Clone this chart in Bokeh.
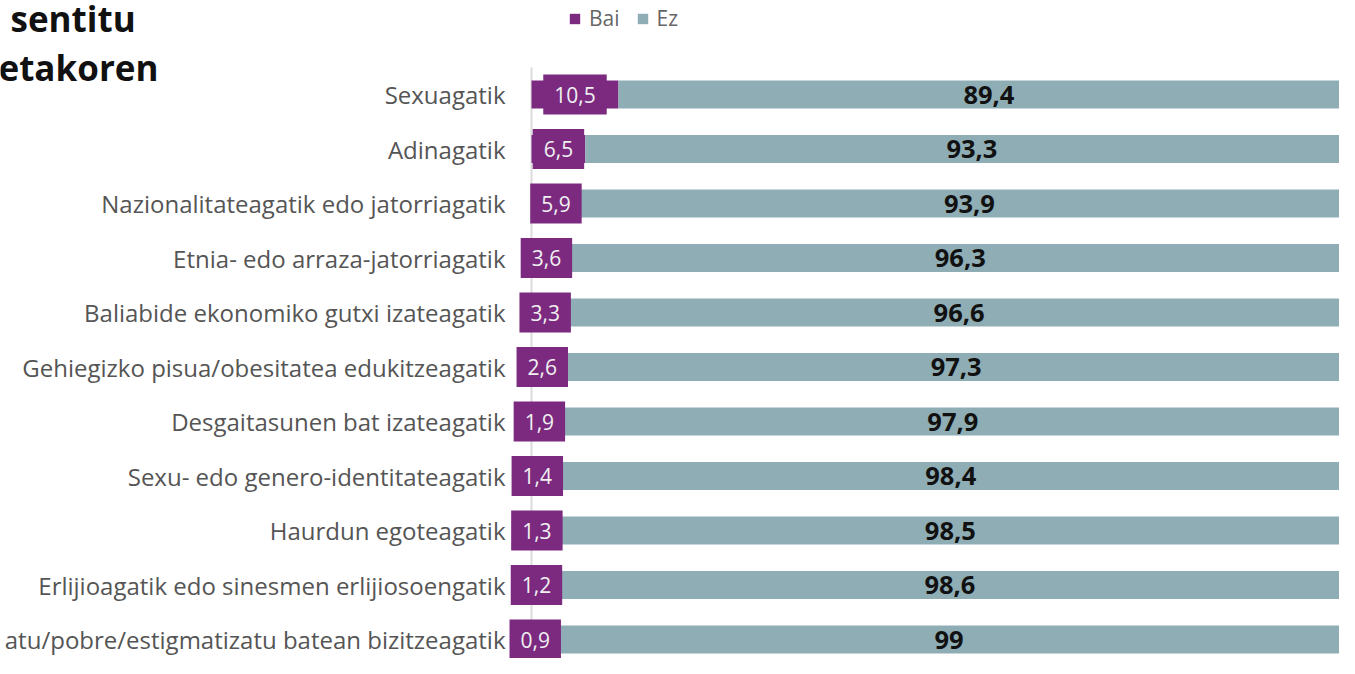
from bokeh.plotting import figure
from bokeh.models import Range1d, ColumnDataSource, Label, Legend, LegendItem
from bokeh.core.properties import value
from bokeh.embed import file_html
from bokeh.resources import INLINE

categories = [
    "Sexuagatik",
    "Adinagatik",
    "Nazionalitateagatik edo jatorriagatik",
    "Etnia- edo arraza-jatorriagatik",
    "Baliabide ekonomiko gutxi izateagatik",
    "Gehiegizko pisua/obesitatea edukitzeagatik",
    "Desgaitasunen bat izateagatik",
    "Sexu- edo genero-identitateagatik",
    "Haurdun egoteagatik",
    "Erlijioagatik edo sinesmen erlijiosoengatik",
    "atu/pobre/estigmatizatu batean bizitzeagatik",
]
bai = [10.5, 6.5, 5.9, 3.6, 3.3, 2.6, 1.9, 1.4, 1.3, 1.2, 0.9]
ez = [89.4, 93.3, 93.9, 96.3, 96.6, 97.3, 97.9, 98.4, 98.5, 98.6, 99.0]
series_names = ["Bai", "Ez"]
title_lines = ["sentitu", "etakoren"]

PURPLE = "#7b2a80"
GREY = "#8fadb5"
FONT = "Open Sans"


def fmt(v):
    s = ("%.1f" % v).rstrip("0").rstrip(".")
    return s.replace(".", ",")


rows = list(range(len(categories)))
src = ColumnDataSource(dict(
    y=rows,
    cat=categories,
    bai=bai,
    ez=ez,
    bai_mid=[b / 2 for b in bai],
    ez_left=bai,
    ez_right=[b + e for b, e in zip(bai, ez)],
    ez_mid=[b + e / 2 for b, e in zip(bai, ez)],
    bai_lab=[fmt(b) for b in bai],
    ez_lab=[fmt(e) for e in ez],
    zero=[0] * len(bai),
))

W, H = 1339, 658
ROW0, STEP = 94.0, 54.5
PXU = 8.286
ZERO_PX = 531
p = figure(width=W, height=H, output_backend="svg", toolbar_location=None,
           x_range=Range1d(-ZERO_PX / PXU, (W - ZERO_PX) / PXU),
           y_range=Range1d((H - ROW0) / STEP, -ROW0 / STEP),
           min_border=0, outline_line_color=None)
p.axis.visible = False
p.grid.visible = False

# zero line
p.segment(x0=[0], y0=[-0.5], x1=[0], y1=[11], line_color="#dcdcdc", line_width=2)

r_bai = p.hbar(y="y", left="zero", right="bai", height=28 / STEP, source=src,
               fill_color=PURPLE, line_color=None)
r_ez = p.hbar(y="y", left="ez_left", right="ez_right", height=28 / STEP, source=src,
              fill_color=GREY, line_color=None)

# labels on Bai bars (boxed)
p.text(x="bai_mid", y="y", text="bai_lab", source=src, text_align="center",
       text_baseline="middle", text_color="#f0f0f0", text_font=value(FONT),
       text_font_size="21px", background_fill_color=PURPLE, padding=(11, 12))

# labels on Ez bars
p.text(x="ez_mid", y="y", text="ez_lab", source=src, text_align="center",
       text_baseline="middle", text_color="#111111", text_font=value(FONT),
       text_font_size="25.5px", text_font_style="bold")

# category labels
p.text(x="zero", y="y", text="cat", source=src, x_offset=-26, text_align="right",
       text_baseline="middle", text_color="#555555", text_font=value(FONT),
       text_font_size="24px")

# title fragments
p.add_layout(Label(x=10, y=H - 18, x_units="screen", y_units="screen", text=title_lines[0],
                   text_font=FONT, text_font_size="35px", text_font_style="bold",
                   text_color="#111111", text_baseline="alphabetic"))
p.add_layout(Label(x=-2, y=H - 67, x_units="screen", y_units="screen", text=title_lines[1],
                   text_font=FONT, text_font_size="35px", text_font_style="bold",
                   text_color="#111111", text_baseline="alphabetic"))

legend = Legend(items=[LegendItem(label=series_names[0], renderers=[r_bai]),
                       LegendItem(label=series_names[1], renderers=[r_ez])],
                orientation="horizontal", location=(568, H - 32),
                glyph_width=13, glyph_height=13, label_standoff=8, spacing=16,
                padding=0, margin=0, border_line_color=None,
                background_fill_alpha=0, label_text_font=FONT,
                label_text_font_size="21px", label_text_color="#666666",
                label_height=21)
p.add_layout(legend)

open("out.html", "w").write(file_html(p, INLINE))
